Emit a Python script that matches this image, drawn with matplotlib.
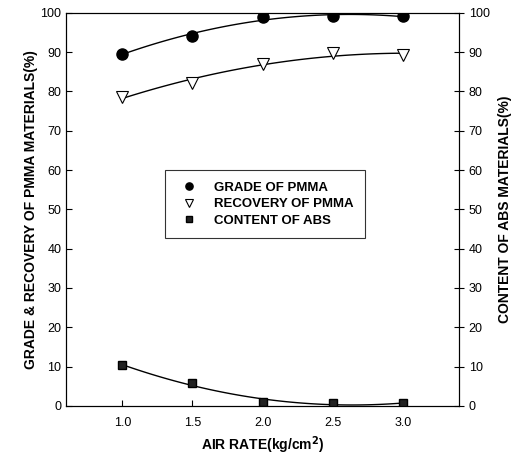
import numpy as np
import matplotlib
matplotlib.use("Agg")
import matplotlib.pyplot as plt

plt.rcParams['font.family'] = ['Liberation Sans', 'DejaVu Sans']

air_rate = [1.0, 1.5, 2.0, 2.5, 3.0]
grade_pmma = [89.6, 94.1, 98.9, 99.1, 99.1]
recovery_pmma = [78.7, 82.1, 87.0, 89.7, 89.3]
content_abs = [10.3, 5.8, 0.9, 0.8, 0.6]

fig = plt.figure(figsize=(5.21, 4.57), dpi=100)
ax = fig.add_axes([0.127, 0.112, 0.754, 0.860])

# smooth fitted curves through each series
xs = np.linspace(1.0, 3.0, 100)
for ys in (grade_pmma, recovery_pmma, content_abs):
    c = np.polyfit(air_rate, ys, 2)
    ax.plot(xs, np.polyval(c, xs), color='black', lw=1.0, zorder=2)

ax.plot(air_rate, grade_pmma, 'o', ms=8, color='black', label='GRADE OF PMMA', zorder=3)
ax.plot(air_rate, recovery_pmma, 'v', ms=8, mfc='white', mec='black', mew=0.8,
        label='RECOVERY OF PMMA', zorder=3)
ax.plot(air_rate, content_abs, 's', ms=6, mfc='#222222', mec='black',
        label='CONTENT OF ABS', zorder=3)

ax.set_xlim(0.6, 3.4)
ax.set_ylim(0, 100)
ax.set_xticks([1.0, 1.5, 2.0, 2.5, 3.0])
ax.set_xticklabels(['1.0', '1.5', '2.0', '2.5', '3.0'])
ax.set_yticks(np.arange(0, 101, 10))
ax.tick_params(axis='both', direction='in', labelsize=9, length=4, width=0.8)
ax.tick_params(axis='x', pad=8)
ax.set_xlabel('AIR RATE(kg/cm$^\\mathbf{2}$)', fontsize=10, fontweight='bold', labelpad=4)
ax.set_ylabel('GRADE & RECOVERY OF PMMA MATERIALS(%)', fontsize=10, fontweight='bold',
              labelpad=2)

ax2 = ax.twinx()
ax2.set_ylim(0, 100)
ax2.set_yticks(np.arange(0, 101, 10))
ax2.tick_params(axis='y', direction='inout', labelsize=9, length=7, width=0.8)
ax2.set_ylabel('CONTENT OF ABS MATERIALS(%)', fontsize=10, fontweight='bold', labelpad=6)

leg = ax.legend(loc='upper left', bbox_to_anchor=(0.252, 0.600),
                frameon=True, fancybox=False, edgecolor='black', handlelength=1.8,
                handletextpad=1.0, borderpad=0.9, labelspacing=0.3, markerscale=0.65,
                borderaxespad=0, prop={'weight': 'bold', 'size': 9.5})
leg.get_frame().set_linewidth(0.8)

fig.savefig('out.png', dpi=100)
